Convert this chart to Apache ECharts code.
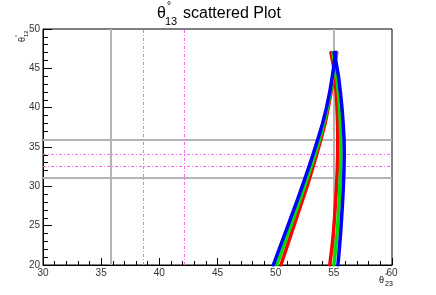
<!DOCTYPE html>
<html><head><meta charset="utf-8">
<script src="https://cdn.jsdelivr.net/npm/echarts@6/dist/echarts.min.js"></script>
<style>html,body{margin:0;padding:0;background:#fff}#c{width:436px;height:295px}</style>
</head><body><div id="c"></div>
<script>
// θ23 (x), θ12 (y) points
var redLeft = [[50.45,20],[50.9,22],[51.35,24],[51.8,26],[52.25,28],[52.7,30],[53.12,32],[53.52,34],[53.9,36],[54.25,38],[54.52,40],[54.77,42],[54.97,44],[55.1,45.5],[55.25,47]];
var greenLeft = [[50.1,20],[50.58,22],[51.06,24],[51.54,26],[52.02,28],[52.48,30],[52.93,32],[53.37,34],[53.78,36],[54.15,38],[54.45,40],[54.72,42],[54.93,44],[55.07,45.5],[55.2,47]];
var blueLeft = [[49.8,20],[50.3,22],[50.8,24],[51.3,26],[51.8,28],[52.28,30],[52.75,32],[53.2,34],[53.63,36],[54.03,38],[54.37,40],[54.65,42],[54.87,44],[55.02,45.5],[55.15,47]];
var redRight = [[54.65,20],[54.82,22],[54.96,24],[55.06,26],[55.15,28],[55.23,30],[55.29,32],[55.33,34],[55.34,36],[55.32,38],[55.27,40],[55.2,42],[55.08,44],[54.95,45.5],[54.75,47]];
var greenRight = [[55.0,20],[55.15,22],[55.28,24],[55.37,26],[55.45,28],[55.52,30],[55.57,32],[55.6,34],[55.6,36],[55.56,38],[55.49,40],[55.38,42],[55.24,44],[55.1,45.5],[54.92,47]];
var blueRight = [[55.35,20],[55.47,22],[55.58,24],[55.67,26],[55.75,28],[55.82,30],[55.87,32],[55.9,34],[55.88,36],[55.8,38],[55.7,40],[55.56,42],[55.4,44],[55.22,45.5],[55.02,47]];
var grayX = [35.8, 55.0];
var grayY = [31.1, 35.9];
var magentaX = [38.6, 42.1];
var magentaY = [32.5, 34.1];
var xTicks = [30,35,40,45,50,55,60];
var yTicks = [20,25,30,35,40,45,50];

var chart = echarts.init(document.getElementById('c'));
function branch(data, color){
  return {type:'line', data:data, symbol:'none', smooth:false, lineStyle:{color:color, width:3.5, join:'round', cap:'round'}, z:5, silent:true};
}
var font = 'Liberation Sans, Arial, sans-serif';
chart.setOption({
  animation:false,
  grid:{left:43, right:44, top:29, bottom:30, show:true, borderColor:'#000', borderWidth:1},
  xAxis:{type:'value', min:xTicks[0], max:xTicks[xTicks.length-1], interval:5,
    axisLine:{onZero:false, lineStyle:{color:'#000', width:1}},
    axisTick:{inside:true, length:7, lineStyle:{color:'#000'}},
    minorTick:{show:true, splitNumber:5, length:4, lineStyle:{color:'#000'}},
    splitLine:{show:false},
    axisLabel:{color:'#333', fontSize:10, fontFamily:font, margin:3}},
  yAxis:{type:'value', min:yTicks[0], max:yTicks[yTicks.length-1], interval:5,
    axisLine:{onZero:false, show:true, lineStyle:{color:'#000', width:1}},
    axisTick:{show:true, inside:true, length:9, lineStyle:{color:'#000'}},
    minorTick:{show:true, splitNumber:5, length:5, lineStyle:{color:'#000'}},
    splitLine:{show:false},
    axisLabel:{color:'#333', fontSize:10, fontFamily:font, margin:3}},
  series:[
    {type:'line', data:[], silent:true, z:2,
      markLine:{silent:true, symbol:'none', label:{show:false},
        lineStyle:{color:'#b4b4b4', width:2, type:'solid'},
        data: grayX.map(function(v){return {xAxis:v};}).concat(grayY.map(function(v){return {yAxis:v};}))}},
    {type:'line', data:[], silent:true, z:2,
      markLine:{silent:true, symbol:'none', label:{show:false},
        lineStyle:{color:'#ff66ff', width:1, type:[3,2,1,2]},
        data: magentaX.map(function(v){return {xAxis:v};}).concat(magentaY.map(function(v){return {yAxis:v};}))}},
    branch(redLeft,'#ff0000'), branch(redRight,'#ff0000'),
    branch(greenLeft,'#00dd00'), branch(greenRight,'#00dd00'),
    branch(blueLeft,'#0000ff'), branch(blueRight,'#0000ff')
  ],
  graphic:[
    {type:'text', left:157, top:6, style:{text:'θ', font:'16px '+font, fill:'#000'}},
    {type:'text', left:167, top:1, style:{text:'°', font:'10px '+font, fill:'#000'}},
    {type:'text', left:165, top:16, style:{text:'13', font:'11px '+font, fill:'#000'}},
    {type:'text', left:183, top:6, style:{text:'scattered Plot', font:'16px '+font, fill:'#000'}},
    {type:'group', x:18, y:42, rotation:Math.PI/2, children:[
      {type:'text', x:0, y:0, style:{text:'θ', font:'9px '+font, fill:'#000'}},
      {type:'text', x:5, y:-4, style:{text:'°', font:'6px '+font, fill:'#000'}},
      {type:'text', x:5, y:5, style:{text:'12', font:'6px '+font, fill:'#000'}}
    ]},
    {type:'text', left:379, top:276, style:{text:'θ', font:'9px '+font, fill:'#000'}},
    {type:'text', left:385, top:272, style:{text:'°', font:'6px '+font, fill:'#000'}},
    {type:'text', left:385, top:281, style:{text:'23', font:'7px '+font, fill:'#000'}}
  ]
});
</script></body></html>
